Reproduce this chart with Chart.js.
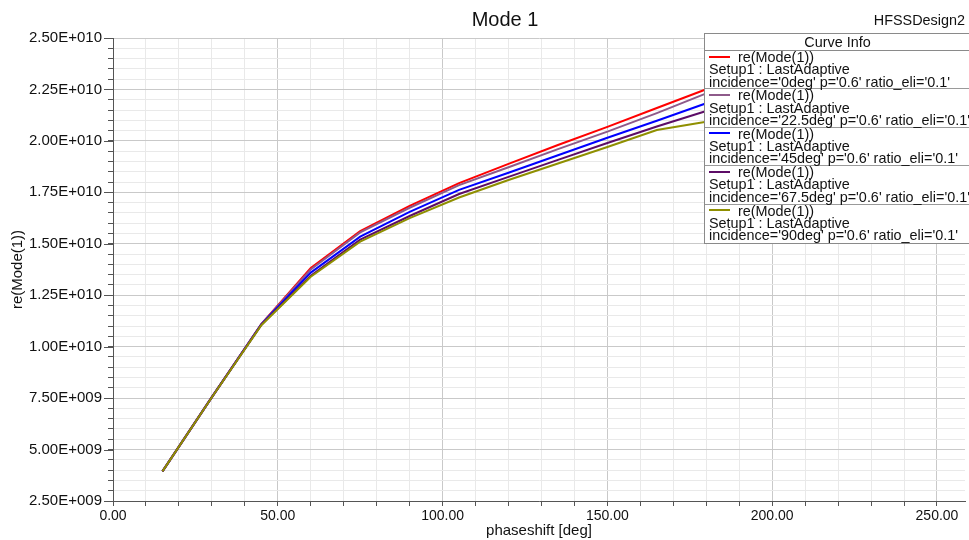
<!DOCTYPE html>
<html>
<head>
<meta charset="utf-8">
<script src="https://cdn.jsdelivr.net/npm/chart.js@4.4.1/dist/chart.umd.min.js"></script>
<style>
  html, body { margin: 0; padding: 0; background: #ffffff; }
  #wrap { position: relative; width: 969px; height: 540px; overflow: hidden; font-family: "Liberation Sans", Arial, sans-serif; }
  #c { position: absolute; left: 0; top: 0; }
  #title { position: absolute; left: 405px; width: 200px; top: 8px; text-align: center; font-size: 20px; color: #111; }
  #design { position: absolute; right: 4px; top: 12px; font-size: 14.4px; color: #111; }
  #legend { position: absolute; left: 704px; top: 33px; width: 275px; background: #fff; border: 1px solid #8a8a8a; font-size: 14.4px; color: #111; }
  #legend .hdr { height: 16px; line-height: 16px; text-align: center; border-bottom: 1px solid #8a8a8a; padding-right: 10px; }
  #legend .ent { height: 38.4px; border-bottom: 1px solid #9a9a9a; padding-left: 4px; line-height: 12.3px; padding-top: 0px; box-sizing: border-box; }
  #legend .ent:last-child { border-bottom: none; }
  #legend .smp { display: inline-block; width: 21px; height: 2px; vertical-align: middle; margin-right: 8px; margin-top: -3px; }
  #legend div { white-space: nowrap; }
</style>
</head>
<body>
<div id="wrap">
  <canvas id="c" width="969" height="540"></canvas>
  <div id="title">Mode 1</div>
  <div id="design">HFSSDesign2</div>
  <div id="legend"></div>
</div>
<script>
// ---- data ----
const phaseshift = [15, 30, 45, 60, 75, 90, 105, 120, 135, 150, 165, 180];
const re_inc0   = [3.94e9, 7.55e9, 11.10e9, 13.82e9, 15.62e9, 16.84e9, 17.95e9, 18.88e9, 19.80e9, 20.68e9, 21.60e9, 22.51e9];
const re_inc225 = [3.94e9, 7.55e9, 11.10e9, 13.75e9, 15.55e9, 16.75e9, 17.85e9, 18.72e9, 19.60e9, 20.45e9, 21.35e9, 22.31e9];
const re_inc45  = [3.94e9, 7.55e9, 11.08e9, 13.60e9, 15.35e9, 16.55e9, 17.62e9, 18.45e9, 19.30e9, 20.15e9, 20.98e9, 21.83e9];
const re_inc675 = [3.94e9, 7.55e9, 11.06e9, 13.45e9, 15.20e9, 16.35e9, 17.42e9, 18.25e9, 19.08e9, 19.90e9, 20.70e9, 21.45e9];
const re_inc90  = [3.94e9, 7.54e9, 11.04e9, 13.40e9, 15.10e9, 16.25e9, 17.25e9, 18.10e9, 18.90e9, 19.70e9, 20.53e9, 20.93e9];
const incidences = ["0deg", "22.5deg", "45deg", "67.5deg", "90deg"];
const seriesValues = [re_inc0, re_inc225, re_inc45, re_inc675, re_inc90];
const seriesColors = ["#ff0000", "#8e5a8a", "#0000ff", "#5c0c66", "#8f8f00"];
const curveName = "re(Mode(1))";
const setupName = "Setup1 : LastAdaptive";
const chartTitle = "Mode 1";
const xTitle = "phaseshift [deg]";
const yTitle = "re(Mode(1))";
const xMin = 0, xMax = 258.5, xStep = 10, xMajor = 50;
const yMin = 2.5e9, yMax = 2.5e10, yStep = 0.5e9, yMajor = 2.5e9;

function fmtExp(v) {
  const s = v.toExponential(2);
  const [m, e] = s.split("e");
  const sign = e[0] === "-" ? "-" : "+";
  const digits = e.replace(/[+-]/, "").padStart(3, "0");
  return m + "E" + sign + digits;
}
function isMult(v, step) { return Math.abs(v / step - Math.round(v / step)) < 1e-6; }

const datasets = seriesValues.map((vals, i) => ({
  label: curveName + " incidence='" + incidences[i] + "'",
  data: phaseshift.map((x, j) => ({ x: x, y: vals[j] })),
  borderColor: seriesColors[i],
  backgroundColor: seriesColors[i],
  borderWidth: 2,
  pointRadius: 0,
  tension: 0,
  fill: false,
  order: seriesValues.length - i
}));

const majorTicks = {
  id: "majorTicks",
  afterDatasetsDraw(chart) {
    const ctx = chart.ctx;
    const ys = chart.scales.y;
    ctx.save();
    ctx.strokeStyle = "#555";
    ctx.lineWidth = 1;
    for (let v = yMin; v <= yMax + 1; v += yMajor) {
      const py = Math.round(ys.getPixelForValue(v)) + 0.5;
      ctx.beginPath();
      ctx.moveTo(ys.right - 9, py);
      ctx.lineTo(ys.right, py);
      ctx.stroke();
    }
    ctx.restore();
  }
};

const ctx = document.getElementById("c").getContext("2d");
const chart = new Chart(ctx, {
  type: "line",
  data: { datasets: datasets },
  options: {
    responsive: false,
    animation: false,
    layout: { padding: { top: 38, right: 4, left: 0, bottom: 0 } },
    plugins: { legend: { display: false }, title: { display: false }, tooltip: { enabled: false } },
    scales: {
      x: {
        type: "linear",
        min: xMin, max: xMax,
        afterFit(s) { s.height = 39; },
        border: { display: true, color: "#555", width: 1 },
        grid: {
          color: (c) => isMult(c.tick.value, xMajor) ? "#c9c9c9" : "#e9e9e9",
          tickColor: "#555",
          tickLength: 5,
          drawTicks: true
        },
        ticks: {
          stepSize: xStep,
          autoSkip: false,
          includeBounds: false,
          maxRotation: 0,
          padding: 2,
          color: "#111",
          font: { family: "Liberation Sans", size: 14 },
          callback: (v) => isMult(v, xMajor) ? Number(v).toFixed(2) : ""
        },
        title: { display: true, text: xTitle, color: "#111", font: { family: "Liberation Sans", size: 15 }, padding: { top: -4, bottom: 0 } }
      },
      y: {
        type: "linear",
        min: yMin, max: yMax,
        afterFit(s) { s.width = 113; },
        border: { display: true, color: "#555", width: 1 },
        grid: {
          color: (c) => isMult(c.tick.value, yMajor) ? "#c9c9c9" : "#e9e9e9",
          tickColor: "#555",
          tickLength: 5,
          drawTicks: true
        },
        ticks: {
          stepSize: yStep,
          autoSkip: false,
          padding: 6,
          color: "#111",
          font: { family: "Liberation Sans", size: 15 },
          callback: (v) => isMult(v, yMajor) ? fmtExp(v) : ""
        },
        title: { display: true, text: yTitle, color: "#111", font: { family: "Liberation Sans", size: 15 }, padding: { top: 9, bottom: 0 } }
      }
    }
  },
  plugins: [majorTicks]
});

// HTML legend built from the chart datasets
const lg = document.getElementById("legend");
let html = '<div class="hdr">Curve Info</div>';
chart.data.datasets.forEach((d, i) => {
  html += '<div class="ent">' +
    '<div><span class="smp" style="background:' + d.borderColor + '"></span>' + curveName + '</div>' +
    '<div>' + setupName + '</div>' +
    "<div>incidence='" + incidences[i] + "' p='0.6' ratio_eli='0.1'</div>" +
    '</div>';
});
lg.innerHTML = html;
document.getElementById("title").textContent = chartTitle;
</script>
</body>
</html>
